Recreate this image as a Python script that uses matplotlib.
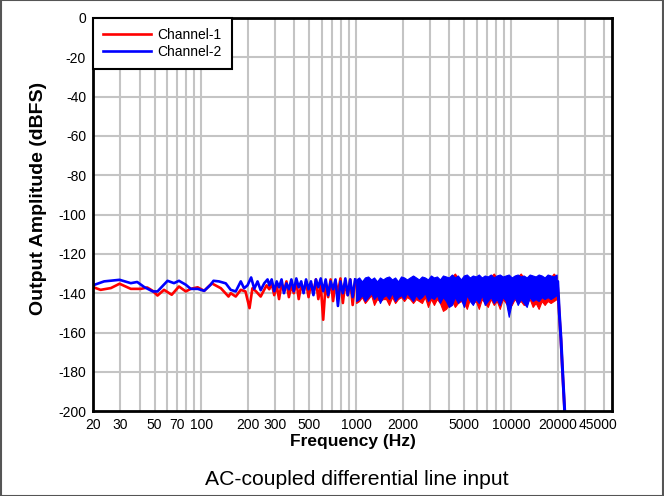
import matplotlib
matplotlib.use("Agg")
import matplotlib.pyplot as plt
import matplotlib.transforms as mtransforms
from matplotlib.patches import Rectangle

plt.rcParams['font.family'] = ['Liberation Sans', 'DejaVu Sans']
plt.rcParams['axes.unicode_minus'] = False  # plain hyphen on the y labels

# ---- data ----
# low-frequency part, each channel has its own read points
ch1_freq = [20, 22.4, 26.1, 29.7, 35.1, 40.8, 44.8, 48.6, 52.2, 57.5, 64.5, 71.8, 79.5, 85.6,
            94.8, 104.5, 117, 134, 150, 155, 167, 180, 193, 205, 214, 226, 242, 264]
ch1_low = [-136.9, -138.3, -137.4, -135.2, -137.8, -137.8, -137.1, -138.8, -141.2, -138.3,
           -140.8, -136.6, -139.1, -137.8, -137.0, -138.8, -135.0, -137.5, -141.7, -140.0,
           -141.7, -138.3, -139.1, -147.6, -137.5, -139.1, -141.7, -136.0]

ch2_freq = [20, 23.6, 29.7, 35.1, 38.6, 42.9, 48.6, 52.2, 60.6, 66.7, 71.8, 79.5, 85.6, 94.8,
            104.5, 115, 120, 130, 144, 155, 167, 180, 189, 199, 210, 220, 231, 242, 255, 268]
ch2_low = [-136.0, -134.0, -133.2, -134.9, -134.3, -136.9, -139.1, -139.1, -133.7, -134.9,
           -133.7, -135.7, -137.8, -137.8, -138.8, -135.7, -133.7, -134.0, -135.0, -138.3,
           -139.1, -134.0, -137.5, -136.0, -132.0, -137.8, -134.0, -138.5, -135.0, -133.0]

# 275 Hz - 1 kHz
mid_freq = [275, 285, 296, 307, 318, 330, 342, 355, 368, 382, 396, 411, 426, 442, 458, 475,
            493, 511, 530, 550, 570, 591, 613, 636, 660, 684, 710, 736, 763, 792, 821, 852,
            883, 916, 950, 985]
ch1_mid = [-138, -135, -141, -136, -143, -135, -139, -134, -142, -136, -140, -134, -143, -136,
           -139, -134, -142, -135, -140, -133, -143, -136, -153.5, -135, -142, -133, -144, -134,
           -140, -132.5, -145, -134, -141, -133, -146, -134]
ch2_mid = [-136, -133, -139, -134, -137, -133, -140, -135, -138, -133, -139, -132.5, -137, -134,
           -140, -133, -138, -134, -141, -133, -137, -132.5, -139, -133, -141, -134, -138, -133,
           -146.5, -134, -140, -132.5, -141, -133, -142, -133]

# 1 kHz - 20 kHz, dense noise band (upper / lower envelope)
dense_freq = [1000, 1045, 1090, 1140, 1195, 1250, 1305, 1365, 1425, 1490,
              1560, 1630, 1705, 1785, 1865, 1950, 2040, 2130, 2225, 2330,
              2435, 2545, 2660, 2780, 2910, 3040, 3180, 3325, 3475, 3635,
              3800, 3970, 4150, 4340, 4540, 4745, 4960, 5185, 5420, 5670,
              5925, 6195, 6475, 6770, 7080, 7400, 7740, 8090, 8460, 8845,
              9245, 9665, 10100, 10565, 11045, 11550, 12075, 12625, 13200, 13800,
              14425, 15080, 15770, 16485, 17235, 18020, 18840, 19700]
ch1_hi = [-134, -133, -135, -133, -132.5, -134, -133, -135, -133, -134,
          -133, -132.5, -134, -133, -135, -132.5, -133, -134, -133, -132,
          -133, -134, -132.5, -133, -134, -132, -133, -132.5, -134, -132,
          -132.5, -133, -131.5, -130, -132, -134, -132, -131.5, -133, -132,
          -132.5, -131.5, -133, -132, -132.5, -131.5, -130, -132, -131.5, -132.5,
          -132, -131.5, -133, -132, -131.5, -130, -132, -133, -131.5, -132,
          -132.5, -131.5, -132, -133, -131.5, -132, -130, -131.5]
ch1_lo = [-145, -144, -142, -145, -143, -141, -146, -143, -144, -143,
          -143, -146, -142, -145, -143, -142, -144, -142, -143, -145,
          -143, -144, -145, -142, -147, -143, -146, -143, -145, -149,
          -148, -146, -144, -147, -145, -144, -145, -148, -143, -145,
          -144, -148, -143, -145, -147, -143, -146, -144, -148, -143,
          -145, -147, -146, -143, -145, -144, -146, -145, -143, -147,
          -145, -148, -144, -146, -144, -145, -144, -143]
ch2_hi = [-133, -132, -134, -132, -131.5, -133, -132, -134, -132, -133,
          -132, -131.5, -133, -132, -134, -131.5, -132, -133, -132, -131,
          -132, -133, -131.5, -132, -133, -131, -132, -131.5, -133, -131,
          -131.5, -132, -130.5, -132, -131, -133, -131, -130.5, -132, -131,
          -131.5, -130.5, -132, -131, -131.5, -130.5, -132, -131, -130.5, -131.5,
          -131, -130.5, -132, -131, -130.5, -131.5, -131, -132, -130.5, -131,
          -131.5, -130.5, -131, -132, -130.5, -131, -131.5, -130.5]
ch2_lo = [-144, -143, -141, -144, -142, -140, -143, -141, -145, -142,
          -141, -143, -140, -144, -142, -141, -143, -140, -142, -144,
          -141, -143, -142, -140, -144, -142, -143, -141, -145, -142,
          -144, -147, -146, -142, -145, -143, -147, -141, -144, -146,
          -143, -145, -141, -146, -144, -142, -145, -143, -146, -142,
          -144, -152, -145, -142, -146, -143, -145, -147, -142, -144,
          -143, -144, -142, -143, -142, -143, -142, -141]

# roll-off above 20 kHz
tail_freq = [19700, 20000, 20500, 21000, 21500, 22200, 22700]
ch1_tail = [-138, -137, -151, -164, -180, -200, -212]
ch2_tail = [-136, -134, -150, -163, -179, -200, -212]

tick_vals = [20, 30, 50, 70, 100, 200, 300, 500, 1000, 2000, 5000, 10000, 20000, 45000]
tick_text = ['20', '30', '50', '70', '100', '200', '300', '500', '1000', '2000', '5000',
             '10000', '20000', '45000']

RED = '#ff0000'
BLUE = '#0000ff'
GRID = '#c4c4c4'

fig = plt.figure(figsize=(6.64, 4.96), dpi=100)
ax = fig.add_axes([0.140, 0.171, 0.782, 0.793])

# channel 1 first, channel 2 drawn over it
l1, = ax.plot(ch1_freq + mid_freq, ch1_low + ch1_mid, color=RED, lw=1.9, label='Channel-1', zorder=3)
ax.fill_between(dense_freq, ch1_lo, ch1_hi, color=RED, lw=0.8, zorder=3)
ax.plot(tail_freq, ch1_tail, color=RED, lw=2, zorder=3)

l2, = ax.plot(ch2_freq + mid_freq, ch2_low + ch2_mid, color=BLUE, lw=1.9, label='Channel-2', zorder=4)
ax.fill_between(dense_freq, ch2_lo, ch2_hi, color=BLUE, lw=0.8, zorder=4)
ax.plot(tail_freq, ch2_tail, color=BLUE, lw=2.2, zorder=4)

ax.set_xscale('log')
ax.set_xlim(20, 45000)
ax.set_ylim(-200, 0)

# grid lines at every 1..9 step of each decade, and every 20 dB
grid_x = [m * d for d in (10, 100, 1000, 10000) for m in range(1, 10) if 20 < m * d < 45000]
for gx in grid_x:
    ax.axvline(gx, color=GRID, lw=1.5, zorder=1)
for gy in range(-180, 0, 20):
    ax.axhline(gy, color=GRID, lw=1.5, zorder=1)

ax.set_xticks(tick_vals)
ax.set_xticklabels(tick_text)
ax.minorticks_off()
ax.set_yticks(range(-200, 1, 20))
ax.tick_params(which='both', length=0, labelsize=10, pad=5)
# last label sits inside the right edge, as in the original
last = ax.get_xticklabels()[-1]
last.set_ha('right')
last.set_transform(last.get_transform() + mtransforms.ScaledTranslation(5 / 100, 0, fig.dpi_scale_trans))

for s in ax.spines.values():
    s.set_linewidth(2)
    s.set_color('black')
    s.set_zorder(6)

ax.set_xlabel('Frequency (Hz)', fontsize=12.5, fontweight='bold', labelpad=1)
ax.set_ylabel('Output Amplitude (dBFS)', fontsize=14, fontweight='bold')
ax.yaxis.set_label_coords(-0.088, 0.541)

leg = ax.legend(handles=[l1, l2], loc='upper left', bbox_to_anchor=(0, 1), borderaxespad=0,
                fontsize=10, handlelength=3.4, fancybox=False, framealpha=1,
                borderpad=0.75, labelspacing=0.2, handletextpad=0.5)
leg.get_frame().set_edgecolor('black')
leg.get_frame().set_linewidth(1.5)
leg.set_zorder(10)

fig.text(0.538, 0.033, 'AC-coupled differential line input', ha='center', va='center', fontsize=15.2)

fig.patches.append(Rectangle((0.001, 0.001), 0.998, 0.998, transform=fig.transFigure,
                             fill=False, edgecolor='#555555', lw=1.5))

fig.savefig('out.png', dpi=100)
